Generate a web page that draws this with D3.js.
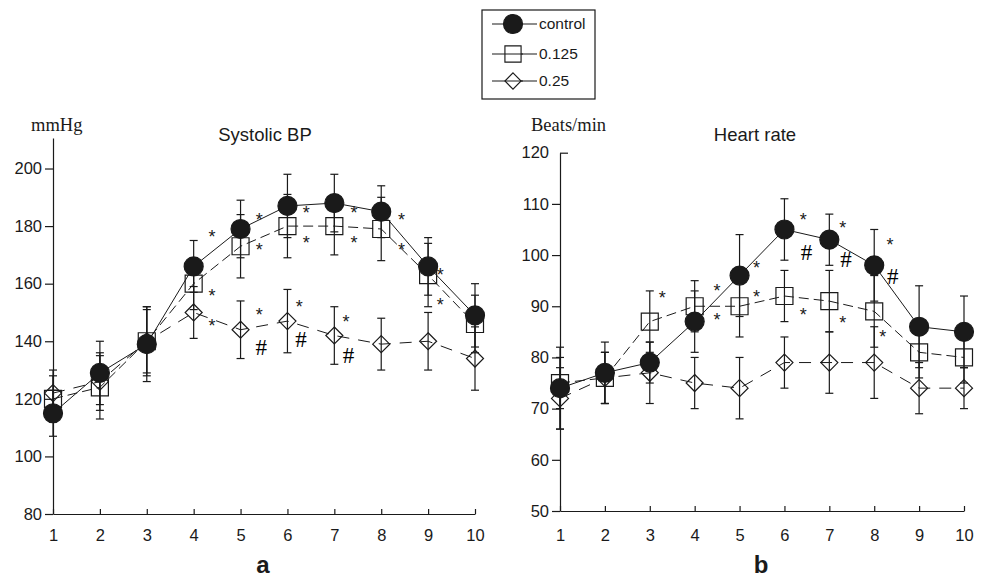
<!DOCTYPE html>
<html>
<head>
<meta charset="utf-8">
<script src="https://cdn.jsdelivr.net/npm/d3@7"></script>
<style>
  body { margin: 0; background: #fff; }
  svg { display: block; }
  .tick text { font-family: "Liberation Sans", Arial, sans-serif; font-size: 16.5px; fill: #1a1a1a; }
  .axis path, .axis line { stroke: #1a1a1a; stroke-width: 1.2; }
</style>
</head>
<body>
<div id="chart"></div>
<script>
// x positions (time points)
var points = [1, 2, 3, 4, 5, 6, 7, 8, 9, 10]
var groups = ["control", "0.125", "0.25"]

// systolic BP (mmHg) mean and SD
var sbpControl = [115, 129, 139, 166, 179, 187, 188, 185, 166, 149]
var sbpLow     = [120, 124, 140, 160, 173, 180, 180, 179, 163, 146]
var sbpHigh    = [122, 126, 140, 150, 144, 147, 142, 139, 140, 134]
var sbpControlSd = [8, 11, 13, 9, 10, 11, 10, 9, 10, 11]
var sbpLowSd     = [8, 11, 12, 9, 11, 11, 10, 11, 11, 10]
var sbpHighSd    = [8, 10, 11, 9, 10, 11, 10, 9, 10, 11]

// heart rate (beats/min) mean and SD
var hrControl = [74, 77, 79, 87, 96, 105, 103, 98, 86, 85]
var hrLow     = [75, 76, 87, 90, 90, 92, 91, 89, 81, 80]
var hrHigh    = [72, 76, 77, 75, 74, 79, 79, 79, 74, 74]
var hrControlSd = [8, 6, 4, 6, 8, 6, 5, 7, 8, 7]
var hrLowSd     = [5, 5, 6, 5, 6, 5, 6, 7, 5, 5]
var hrHighSd    = [6, 5, 6, 5, 6, 5, 6, 7, 5, 4]

var sbpTicks = [80, 100, 120, 140, 160, 180, 200]
var hrTicks = [50, 60, 70, 80, 90, 100, 110, 120]

// significance marks [x, value]
var sbpStars = [[4.39,177.7],[5.4,183.5],[5.4,173],[6.4,185.8],[6.4,175.4],[7.42,185.8],[7.42,175.4],
  [8.43,183.5],[8.43,173],[9.26,164.4],[9.26,154],[4.39,157.2],[5.4,150.5],[6.25,153.4],[4.39,146.5],[7.25,148]]
var sbpHash = [[5.44,137.8],[6.29,140.7],[7.3,135.3]]
var hrStars = [[3.28,92.3],[4.5,93.8],[5.38,98.3],[5.38,92.6],[6.42,107.7],[6.42,89],[7.3,106],[7.3,87.5],
  [8.35,102.8],[8.19,84.8],[4.5,88]]
var hrHash = [[6.49,100.6],[7.37,99.1],[8.41,95.8]]

var ink = "#1a1a1a"
var dashes = {"control": null, "0.125": "10,5", "0.25": "12,9"}

var svg = d3.select("#chart").append("svg")
  .attr("width", 987)
  .attr("height", 579)

function panel(opt) {
  var x = d3.scaleLinear().domain([1, 10]).range(opt.xr)
  var y = d3.scaleLinear().domain(opt.yd).range(opt.yr)
  var g = svg.append("g")

  // axes
  var ya = g.append("g").attr("class", "axis")
    .attr("transform", "translate(" + opt.xr[0] + ",0)")
    .call(d3.axisLeft(y).tickValues(opt.ticks).tickSize(8).tickSizeOuter(0).tickPadding(3))
  if (opt.topTickIn) {
    ya.selectAll(".tick").filter(d => d === opt.ticks[opt.ticks.length - 1])
      .select("line").attr("x2", 8)
  }
  g.append("g").attr("class", "axis")
    .attr("transform", "translate(0," + opt.yr[0] + ")")
    .call(d3.axisBottom(x).tickValues(points).tickSize(-5).tickSizeOuter(0).tickPadding(529 - opt.yr[0]))

  var series = [
    {name: "control", v: opt.series[0], sd: opt.sd[0]},
    {name: "0.125", v: opt.series[1], sd: opt.sd[1]},
    {name: "0.25", v: opt.series[2], sd: opt.sd[2]}
  ]

  var line = d3.line().x((d, i) => x(points[i])).y(d => y(d))

  series.slice().reverse().forEach(function(s) {
    g.append("path")
      .datum(s.v)
      .attr("d", line)
      .attr("fill", "none")
      .attr("stroke", ink)
      .attr("stroke-width", 1)
      .attr("stroke-dasharray", dashes[s.name])

    // error bars
    var eb = g.append("g").selectAll("g").data(s.v).enter().append("g")
    eb.append("line")
      .attr("x1", (d, i) => x(points[i])).attr("x2", (d, i) => x(points[i]))
      .attr("y1", (d, i) => y(d - s.sd[i])).attr("y2", (d, i) => y(d + s.sd[i]))
      .attr("stroke", ink).attr("stroke-width", 1.2)
    ;[-1, 1].forEach(function(k) {
      eb.append("line")
        .attr("x1", (d, i) => x(points[i]) - 4).attr("x2", (d, i) => x(points[i]) + 4)
        .attr("y1", (d, i) => y(d + k * s.sd[i])).attr("y2", (d, i) => y(d + k * s.sd[i]))
        .attr("stroke", ink).attr("stroke-width", 1.2)
    })
  })

  // markers
  series.slice().reverse().forEach(function(s) {
    g.append("g").selectAll("path").data(s.v).enter().append("path")
      .attr("transform", (d, i) => "translate(" + x(points[i]) + "," + y(d) + ")")
      .attr("d", marker(s.name))
      .attr("fill", s.name === "control" ? ink : "none")
      .attr("stroke", ink)
      .attr("stroke-width", 1.2)
  })

  // significance marks
  g.append("g").selectAll("text").data(opt.stars).enter().append("text")
    .attr("x", d => x(d[0])).attr("y", d => y(d[1]))
    .attr("dy", "0.55em")
    .attr("text-anchor", "middle")
    .style("font-family", "Liberation Sans, Arial, sans-serif")
    .style("font-size", "18px")
    .style("fill", ink)
    .text("*")
  g.append("g").selectAll("text").data(opt.hash).enter().append("text")
    .attr("x", d => x(d[0])).attr("y", d => y(d[1]))
    .attr("dy", "0.34em")
    .attr("text-anchor", "middle")
    .style("font-family", "Liberation Serif, Times New Roman, serif")
    .style("font-size", "23px")
    .style("fill", "#000")
    .text("#")

  // title, unit, letter
  g.append("text")
    .attr("x", opt.titleX).attr("y", 141)
    .attr("text-anchor", "middle")
    .style("font-family", "Liberation Sans, Arial, sans-serif")
    .style("font-size", "18.5px")
    .style("fill", ink)
    .text(opt.title)
  g.append("text")
    .attr("x", opt.unitX).attr("y", 131)
    .style("font-family", "Liberation Serif, Times New Roman, serif")
    .style("font-size", "18.5px")
    .style("fill", ink)
    .text(opt.unit)
  g.append("text")
    .attr("x", opt.letterX).attr("y", 573)
    .attr("text-anchor", "middle")
    .style("font-family", "Liberation Sans, Arial, sans-serif")
    .style("font-weight", "bold")
    .style("font-size", "24px")
    .style("fill", ink)
    .text(opt.letter)
}

function marker(name) {
  if (name === "control") return d3.symbol().type(d3.symbolCircle).size(Math.PI * 9.5 * 9.5)()
  if (name === "0.125") return "M-8.5,-8.5H8.5V8.5H-8.5Z"
  return "M0,-8.5L8.5,0L0,8.5L-8.5,0Z"
}

panel({
  xr: [53, 475], yd: [80, 210.6], yr: [514, 138],
  ticks: sbpTicks,
  series: [sbpControl, sbpLow, sbpHigh],
  sd: [sbpControlSd, sbpLowSd, sbpHighSd],
  stars: sbpStars, hash: sbpHash,
  title: "Systolic BP", titleX: 265,
  unit: "mmHg", unitX: 31,
  letter: "a", letterX: 263
})

panel({
  xr: [560, 964], yd: [50, 120], yr: [511, 152.7],
  ticks: hrTicks, topTickIn: true,
  series: [hrControl, hrLow, hrHigh],
  sd: [hrControlSd, hrLowSd, hrHighSd],
  stars: hrStars, hash: hrHash,
  title: "Heart rate", titleX: 755,
  unit: "Beats/min", unitX: 531,
  letter: "b", letterX: 761
})

// legend
var legend = svg.append("g")
legend.append("rect")
  .attr("x", 482).attr("y", 10).attr("width", 113).attr("height", 89)
  .attr("fill", "#fff").attr("stroke", ink).attr("stroke-width", 1.2)
var rows = legend.selectAll("g.row").data(groups).enter().append("g")
  .attr("class", "row")
  .attr("transform", (d, i) => "translate(513," + [24, 54, 81][i] + ")")
rows.append("line")
  .attr("x1", -21).attr("x2", 24)
  .attr("stroke", ink).attr("stroke-width", 1.2)
rows.append("path")
  .attr("d", d => marker(d))
  .attr("transform", d => d === "control" ? null : "scale(0.95)")
  .attr("fill", d => d === "control" ? ink : "#fff")
  .attr("stroke", ink).attr("stroke-width", 1.2)
rows.filter(d => d !== "control").append("line")
  .attr("x1", -8).attr("x2", 10)
  .attr("stroke", ink).attr("stroke-width", 1)
rows.append("text")
  .attr("x", 26).attr("dy", "0.35em")
  .style("font-family", "Liberation Sans, Arial, sans-serif")
  .style("font-size", "15.5px")
  .style("fill", ink)
  .text(d => d)
</script>
</body>
</html>
